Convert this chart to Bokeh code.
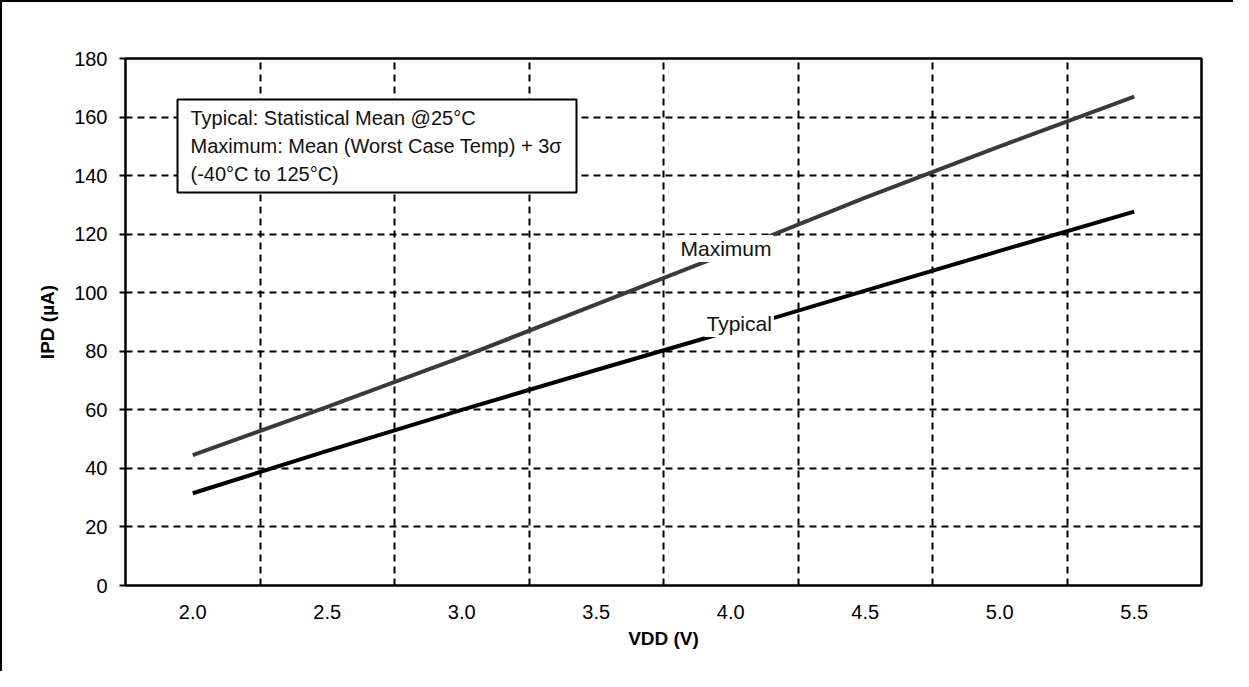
from bokeh.plotting import figure
from bokeh.models import Range1d, FixedTicker, Label, BoxAnnotation, PrintfTickFormatter
from bokeh.embed import file_html
from bokeh.resources import INLINE

# ---- data ----
vdd = [2.0, 2.5, 3.0, 3.5, 4.0, 4.5, 5.0, 5.5]
typical = [31.5, 46.0, 60.0, 73.6, 87.0, 100.7, 114.3, 127.7]
maximum = [44.5, 61.0, 78.0, 96.0, 114.0, 132.5, 150.0, 167.0]
y_ticks = [0, 20, 40, 60, 80, 100, 120, 140, 160, 180]
series_names = ["Maximum", "Typical"]
note_lines = ["Typical: Statistical Mean @25°C",
              "Maximum: Mean (Worst Case Temp) + 3σ",
              "(-40°C to 125°C)"]
x_title = "VDD (V)"
y_title = "IPD (µA)"

# ---- layout ----
W, H = 1233, 671
FL, FR, FT, FB = 123, 1199, 56, 583
X0, X1 = 1.75, 5.75
Y0, Y1 = 0, 180
FONT = "Liberation Sans"

def dx(px):
    return X0 + (px - FL) * (X1 - X0) / (FR - FL)

def dy(py):
    return Y0 + (FB - py) * (Y1 - Y0) / (FB - FT)

p = figure(width=W, height=H, output_backend="svg", toolbar_location=None,
           x_range=Range1d(X0, X1), y_range=Range1d(Y0, Y1),
           min_border_left=FL, min_border_right=W - FR,
           min_border_top=FT, min_border_bottom=H - FB)
p.styles = {"border-top": "2px solid black", "border-left": "2px solid black"}
p.outline_line_color = "black"
p.outline_line_width = 2.5
p.outline_line_alpha = 1.0

# axes
p.xaxis.ticker = FixedTicker(ticks=vdd)
p.xaxis.formatter = PrintfTickFormatter(format="%.1f")
p.xaxis.major_tick_out = 0
p.xaxis.major_tick_in = 0
p.xaxis.minor_tick_out = 0
p.xaxis.minor_tick_in = 0
p.xaxis.axis_line_color = None
p.xaxis.major_label_standoff = 19
p.xaxis.axis_label = x_title
p.xaxis.axis_label_standoff = 6

p.yaxis.ticker = FixedTicker(ticks=y_ticks)
p.yaxis.major_tick_out = 6
p.yaxis.major_tick_in = 0
p.yaxis.minor_tick_out = 0
p.yaxis.minor_tick_in = 0
p.yaxis.major_tick_line_width = 2
p.yaxis.major_tick_line_color = "black"
p.yaxis.axis_line_color = None
p.yaxis.major_label_standoff = 12
p.yaxis.axis_label = y_title
p.yaxis.axis_label_standoff = 13

for ax in (p.xaxis[0], p.yaxis[0]):
    ax.major_label_text_font = FONT
    ax.major_label_text_font_size = "20px"
    ax.major_label_text_color = "black"
    ax.axis_label_text_font = FONT
    ax.axis_label_text_font_size = "19px"
    ax.axis_label_text_font_style = "bold"
    ax.axis_label_text_color = "black"

# grids
mids = [(a + b) / 2 for a, b in zip(vdd[:-1], vdd[1:])]
p.xgrid.ticker = FixedTicker(ticks=mids)
p.ygrid.ticker = FixedTicker(ticks=y_ticks[1:-1])
for g in (p.xgrid[0], p.ygrid[0]):
    g.grid_line_color = "black"
    g.grid_line_width = 2
    g.grid_line_dash = "7 5"

# series
p.line(vdd, maximum, line_color="#3a3a3a", line_width=4)
p.line(vdd, typical, line_color="black", line_width=4)

# series labels
p.add_layout(Label(x=dx(676), y=dy(246), text=series_names[0], text_font=FONT,
                   text_font_size="21px", text_color="#111111",
                   background_fill_color="white", padding=2,
                   text_baseline="alphabetic"))
p.add_layout(Label(x=dx(702), y=dy(321), text=series_names[1], text_font=FONT,
                   text_font_size="21px", text_color="#111111",
                   background_fill_color="white", padding=2,
                   text_baseline="alphabetic"))

# note box
p.add_layout(BoxAnnotation(left=dx(175), right=dx(574), top=dy(97), bottom=dy(190),
                           fill_color="white", fill_alpha=1.0,
                           line_color="black", line_width=2, line_alpha=1.0))
for i, t in enumerate(note_lines):
    p.add_layout(Label(x=dx(188), y=dy(115 + 28 * i), text=t, text_font=FONT,
                       text_font_size="20px", text_color="#111111",
                       text_baseline="alphabetic"))

open("out.html", "w").write(file_html(p, INLINE))
